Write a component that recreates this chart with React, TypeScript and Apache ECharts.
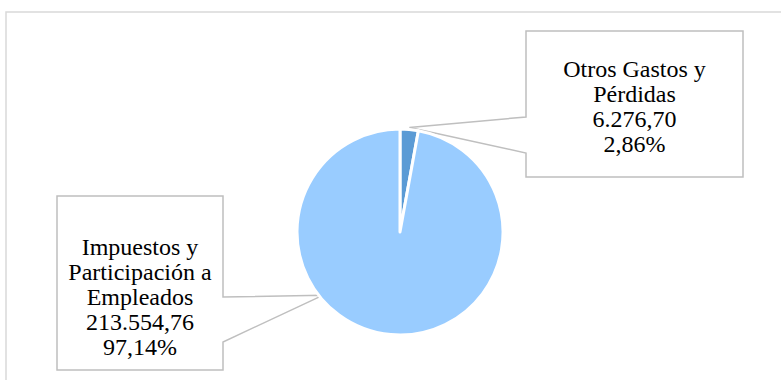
import React, { useEffect, useRef } from "react";
import * as echarts from "echarts";

const categories = ["Otros Gastos y Pérdidas", "Impuestos y Participación a Empleados"];
const labelBreaks = ["Otros Gastos y\nPérdidas", "Impuestos y\nParticipación a\nEmpleados"];
const values = [6276.7, 213554.76];
const colors = ["#5B9BD5", "#99CCFF"];

const CX = 400;
const CY = 232;
const R = 103;

function fmtNum(v: number): string {
  const [i, d] = v.toFixed(2).split(".");
  return i.replace(/\B(?=(\d{3})+(?!\d))/g, ".") + "," + d;
}

export default function App() {
  const ref = useRef<HTMLDivElement>(null);
  useEffect(() => {
    if (!ref.current) return;
    const chart = echarts.init(ref.current, null, { renderer: "svg" });
    const total = values.reduce((a, b) => a + b, 0);
    const midSmall = (values[0] / total) * Math.PI;
    const tip1 = [CX + Math.sin(midSmall) * (R + 2), CY - Math.cos(midSmall) * (R + 2)];
    const ang2 = (230.7 * Math.PI) / 180;
    const tip2 = [CX + Math.sin(ang2) * (R - 3), CY - Math.cos(ang2) * (R - 3)];

    const calloutStyle = { fill: "#ffffff", stroke: "#BFBFBF", lineWidth: 1.5 };

    chart.setOption({
      animation: false,
      backgroundColor: "#ffffff",
      graphic: [
        {
          type: "rect",
          shape: { x: 6, y: 12, width: 800, height: 400 },
          style: { fill: "none", stroke: "#D9D9D9", lineWidth: 1.5 },
          silent: true,
          z: -10,
        },
        {
          type: "polygon",
          shape: {
            points: [
              [526, 31], [743, 31], [743, 177], [526, 177], [526, 153], tip1, [526, 117],
            ],
          },
          style: calloutStyle,
          silent: true,
        },
        {
          type: "polygon",
          shape: {
            points: [
              [57, 196], [223, 196], [223, 297], tip2, [223, 342], [223, 370], [57, 370],
            ],
          },
          style: calloutStyle,
          silent: true,
        },
      ],
      series: [
        {
          type: "pie",
          center: [CX, CY],
          radius: R,
          startAngle: 90,
          clockwise: true,
          data: categories.map((c, i) => ({
            name: c,
            value: values[i],
            itemStyle: { color: colors[i] },
          })),
          itemStyle: { borderColor: "#ffffff", borderWidth: 3 },
          label: {
            show: true,
            position: "outside",
            formatter: (p: any) =>
              labelBreaks[p.dataIndex] + "\n" + fmtNum(p.value) + "\n" + p.percent.toFixed(2).replace(".", ",") + "%",
            fontFamily: "'Liberation Serif', 'Times New Roman', serif",
            fontSize: 24,
            lineHeight: 25,
            color: "#000000",
            align: "center",
          },
          labelLine: { show: false },
          labelLayout: (p: any) =>
            p.dataIndex === 0
              ? { x: 634.5, y: 106, align: "center", verticalAlign: "middle" }
              : { x: 140, y: 297, align: "center", verticalAlign: "middle" },
          emphasis: { disabled: true },
        },
      ],
    });
    return () => chart.dispose();
  }, []);
  return <div ref={ref} style={{ position: "fixed", left: 0, top: 0, width: 781, height: 380 }} />;
}
